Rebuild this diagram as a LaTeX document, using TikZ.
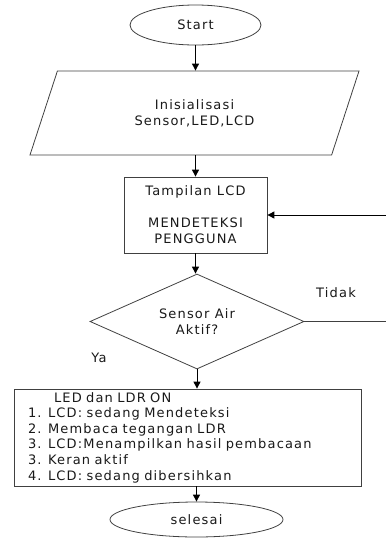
\documentclass[tikz,border=0pt]{standalone}
\usepackage{fontspec}
\setmainfont{DejaVu Sans}[LetterSpace=9.0]
\usetikzlibrary{arrows.meta,shapes.geometric}

\begin{document}
\begin{tikzpicture}[x=1pt, y=-1pt,
  every node/.style={font=\fontsize{13}{16}\selectfont, text=black!90},
  shp/.style={draw=black!75, line width=0.8pt, inner sep=0pt},
  flow/.style={-{Triangle[length=7pt,width=7pt]}, line width=1pt},
  plain/.style={line width=0.8pt, draw=black!75}]
  \useasboundingbox (0,0) rectangle (386,558);
  % shapes
  \node[shp, ellipse, minimum width=131pt, minimum height=40pt] (start) at (195.5,25) {Start};
  \node[shp, trapezium, trapezium left angle=45, trapezium right angle=135, trapezium stretches body,
        minimum width=329pt, minimum height=84pt, align=center] (init) at (194.5,113) {Inisialisasi\\Sensor,LED,LCD};
  \node[shp, rectangle, minimum width=143pt, minimum height=76pt, align=center] (tampil) at (195.5,215)
        {Tampilan LCD\\[16pt]MENDETEKSI\\PENGGUNA};
  \node[shp, diamond, aspect=2.25, minimum width=214pt, minimum height=95pt, align=center] (sensor) at (197,321.5)
        {Sensor Air\\Aktif?};
  \node[shp, rectangle, minimum width=347pt, minimum height=97pt, text width=319pt, align=left,
        font=\fontsize{13}{15.6}\selectfont] (proses) at (187.5,437.5)
        {\hspace*{26pt}LED dan LDR ON\\
         1. LCD: sedang Mendeteksi\\
         2. Membaca tegangan LDR\\
         3. LCD:Menampilkan hasil pembacaan\\
         3. Keran aktif\\
         4. LCD: sedang dibersihkan};
  \node[shp, ellipse, minimum width=173pt, minimum height=35pt] (selesai) at (196.5,519.5) {selesai};
  % labels
  \node (tidak) at (336,293) {Tidak};
  \node (ya) at (99,358) {Ya};
  \coordinate (r1) at (386,321.5);
  \coordinate (r2) at (386,215);
  % connectors
  \draw[flow] (start.south) -- (start.south |- init.north);
  \draw[flow] (tampil.north |- init.south) -- (tampil.north);
  \draw[flow] (tampil.south) -- (tampil.south |- sensor.north);
  \draw[flow] (sensor.south) -- (sensor.south |- proses.north);
  \draw[flow] (selesai.north |- proses.south) -- (selesai.north);
  \draw[plain] (sensor.east) -- (r1);
  \draw[flow] (r2) -- (tampil.east);
\end{tikzpicture}
\end{document}
